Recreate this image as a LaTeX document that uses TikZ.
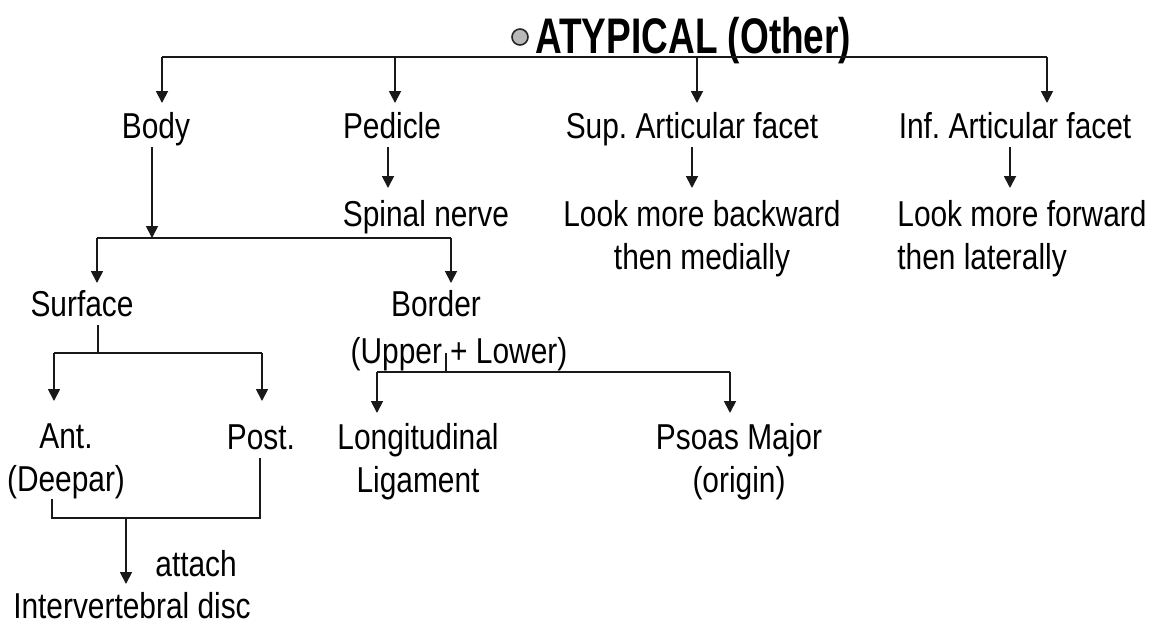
\documentclass[tikz,border=0pt]{standalone}
\usepackage{fontspec}
\setmainfont[FakeStretch=0.83]{Liberation Sans}
\newfontfamily\titlefont[FakeStretch=0.74]{Liberation Sans}
\usetikzlibrary{arrows.meta, positioning}
\frenchspacing

\begin{document}
\begin{tikzpicture}[
  x=0.5pt, y=-0.5pt,
  txt/.style={inner sep=0pt, anchor=north, align=center,
             font=\fontsize{18}{21.5}\selectfont},
  word/.style={txt, text height=13.1pt, text depth=4pt},
  link/.style={line width=0.9pt, color=black!90},
  arrow/.style={link, -{Triangle[length=6pt, width=6pt]}, shorten >=4.5pt}
]
\useasboundingbox (0,0) rectangle (1158,629);

% heading
\node[circle, draw=black!85, fill=gray!55, line width=0.8pt,
      minimum size=8pt, inner sep=0pt] (bullet) at (520,37) {};
\node[anchor=base west, inner sep=0pt,
      font=\titlefont\bfseries\fontsize{25}{30}\selectfont] (title) at (535,53) {ATYPICAL (Other)};

% first row
\node[word] (body) at (156,112) {Body};
\node[word] (pedicle) at (392,112) {Pedicle};
\node[word] (sup) at (692,112) {Sup. Articular facet};
\node[word] (inf) at (1015,112) {Inf. Articular facet};

% second row
\node[word] (spinal) at (426,200) {Spinal nerve};
\node[txt] (backward) at (702,200) {Look more backward\\then medially};
\node[txt, anchor=north west, align=left] (forward) at (897,200) {Look more forward\\then laterally};

% body branch
\node[word] (surface) at (82,290) {Surface};
\node[word] (border) at (436,290) {Border};
\node[txt] (upper) at (459,337) {(Upper + Lower)};
\node[txt] (longit) at (418,423) {Longitudinal\\Ligament};
\node[txt] (psoas) at (739,423) {Psoas Major\\(origin)};
\node[txt] (ant) at (66,423) {Ant.\\(Deepar)};
\node[word] (post) at (261,423) {Post.};
\node[txt, anchor=base west] (attach) at (155,576) {attach};
\node[txt] (disc) at (132,592) {Intervertebral disc};

% junctions
\coordinate (tbody) at (162,57);
\coordinate (tped) at (395,57);
\coordinate (tsup) at (697,57);
\coordinate (tinf) at (1047,57);
\coordinate (bj) at (152,238);
\coordinate (bl) at (97,238);
\coordinate (br) at (451,238);
\coordinate (sj) at (98,353);
\coordinate (sl) at (54,353);
\coordinate (sr) at (262,353);
\coordinate (ut) at (446,353);
\coordinate (uj) at (446,372);
\coordinate (ul) at (377,372);
\coordinate (ur) at (730,372);
\coordinate (dl) at (52,518);
\coordinate (dm) at (126,518);
\coordinate (dr) at (260,518);

% top bar
\draw[link] (tbody) -- (tinf);
\draw[arrow] (tbody) -- (tbody |- body.north);
\draw[arrow] (tped) -- (tped |- pedicle.north);
\draw[arrow] (tsup) -- (tsup |- sup.north);
\draw[arrow] (tinf) -- (tinf |- inf.north);

\draw[arrow, shorten >=6pt] ([xshift=-2pt]pedicle.south) -- ([xshift=-2pt]pedicle.south |- spinal.north);
\draw[arrow, shorten >=6pt] (sup.south) -- (sup.south |- backward.north);
\draw[arrow, shorten >=6pt] ([xshift=-2.5pt]inf.south) -- ([xshift=-2.5pt]inf.south |- forward.north);

% body split
\draw[arrow, shorten >=0pt] (body.south -| bj) -- (bj);
\draw[link] (bl) -- (br);
\draw[arrow, shorten >=3.5pt] (bl) -- (bl |- surface.north);
\draw[arrow, shorten >=3.5pt] (br) -- (br |- border.north);

% surface split
\draw[link] (surface.south -| sj) -- (sj);
\draw[link] (sl) -- (sr);
\draw[arrow, shorten >=11pt] (sl) -- (sl |- ant.north);
\draw[arrow, shorten >=11pt] (sr) -- (sr |- post.north);

% border split
\draw[link] (ut) -- (uj);
\draw[link] (ul) -- (ur);
\draw[arrow, shorten >=5pt] (ul) -- (ul |- longit.north);
\draw[arrow, shorten >=5pt] (ur) -- (ur |- psoas.north);

% ant + post join
\draw[link] (ant.south -| dl) -- (dl) -- (dr) -- (post.south -| dr);
\draw[arrow, shorten >=4pt] (dm) -- (dm |- disc.north);

\end{tikzpicture}
\end{document}
